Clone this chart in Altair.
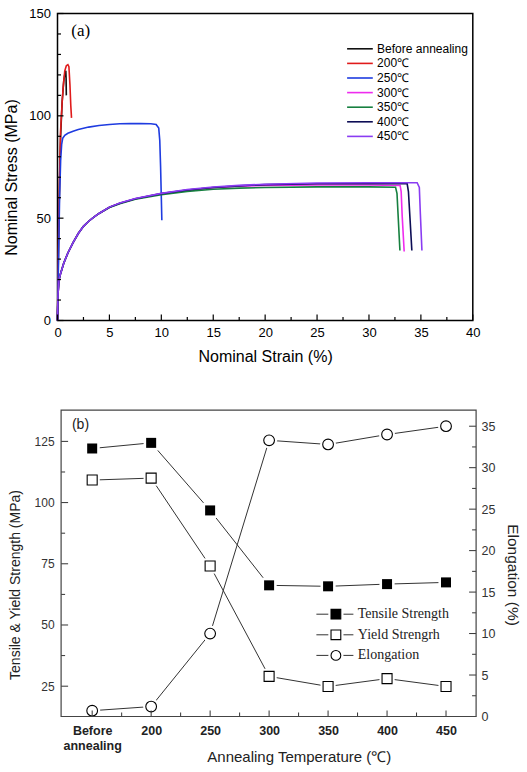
import json
import altair as alt
import pandas as pd

SANS = "Liberation Sans"
SERIF = "Liberation Serif"

# ---------------- panel (a): stress-strain curves ----------------
series_names = ["Before annealing", "200℃", "250℃", "300℃", "350℃", "400℃", "450℃"]
series_colors = ["#111111", "#e01b1b", "#1f3ce0", "#ee2cee", "#178040", "#0d0d55", "#8a3cf2"]

strain_before = [0, 0.1, 0.2, 0.3, 0.45, 0.6, 0.72, 0.8, 0.83, 0.85]
stress_before = [0, 38, 68, 90, 107, 117, 121, 122, 118, 110]

strain_200 = [0, 0.1, 0.2, 0.29, 0.44, 0.55, 0.7, 0.85, 1.0, 1.1, 1.2, 1.28, 1.35]
stress_200 = [0, 40, 70, 92, 106, 114, 122, 124.5, 125, 124, 115, 105, 99]

strain_250 = [0, 0.1, 0.2, 0.3, 0.4, 0.5, 0.7, 1.0, 1.5, 2, 3, 4, 5, 6, 7, 8, 9, 9.5,
              9.75, 9.85, 9.93, 10.0, 10.05]
stress_250 = [0, 30, 60, 78, 86, 89, 90.5, 91.5, 92.5, 93.3, 94.5, 95.3, 95.8, 96.1, 96.2,
              96.2, 96.1, 95.8, 94, 88, 75, 60, 49]

strain_300 = [0, 0.05, 0.15, 0.3, 0.6, 1.0, 1.5, 2.0, 2.5, 3.0, 3.5, 4, 5, 6, 7.5, 10, 12.5,
              15, 17.5, 20, 25, 30, 33.0, 33.1, 33.2, 33.39]
stress_300 = [0, 13, 20, 23, 28, 33, 38, 42.5, 46, 48.5, 50.5, 52.3, 55.3, 57.3, 59.5, 62.0,
              63.7, 64.9, 65.6, 66.0, 66.2, 66.2, 66.0, 63, 51, 33.7]

strain_350 = [0, 0.05, 0.15, 0.3, 0.6, 1.0, 1.5, 2.0, 2.5, 3.0, 3.5, 4, 5, 6, 7.5, 10, 12.5,
              15, 17.5, 20, 25, 30, 32.56, 32.7, 32.8, 32.98]
stress_350 = [0, 13, 20, 23, 28, 33, 38, 42.5, 46, 48.5, 50.5, 52.3, 55.2, 57.1, 59.2, 61.5,
              63.1, 64.1, 64.7, 65.0, 65.3, 65.3, 65.1, 62, 52, 34.2]

strain_400 = [0, 0.05, 0.15, 0.3, 0.6, 1.0, 1.5, 2.0, 2.5, 3.0, 3.5, 4, 5, 6, 7.5, 10, 12.5,
              15, 17.5, 20, 25, 30, 33.68, 33.8, 33.95, 34.13]
stress_400 = [0, 13, 20, 23, 28, 33, 38, 42.5, 46, 48.5, 50.5, 52.3, 55.3, 57.3, 59.5, 62.0,
              63.8, 65.0, 65.8, 66.4, 66.8, 66.8, 66.8, 63, 50, 34.2]

strain_450 = [0, 0.05, 0.15, 0.3, 0.6, 1.0, 1.5, 2.0, 2.5, 3.0, 3.5, 4, 5, 6, 7.5, 10, 12.5,
              15, 17.5, 20, 25, 30, 34.64, 34.85, 34.95, 35.1]
stress_450 = [0, 13, 20, 23, 28, 33, 38, 42.5, 46, 48.5, 50.5, 52.3, 55.4, 57.4, 59.6, 62.1,
              64.0, 65.2, 66.0, 66.6, 67.2, 67.3, 67.3, 65, 52, 34.2]

strain_lists = [strain_before, strain_200, strain_250, strain_300, strain_350, strain_400, strain_450]
stress_lists = [stress_before, stress_200, stress_250, stress_300, stress_350, stress_400, stress_450]

top_x_major = [0, 5, 10, 15, 20, 25, 30, 35, 40]
top_x_minor = [2.5, 7.5, 12.5, 17.5, 22.5, 27.5, 32.5, 37.5]
top_y_major = [0, 50, 100, 150]
top_y_minor = [10, 20, 30, 40, 60, 70, 80, 90, 110, 120, 130, 140]

# ---------------- panel (b): strength / elongation ----------------
temp_labels = ["Before annealing", "200", "250", "300", "350", "400", "450"]
tensile_strength = [122.1, 124.4, 96.8, 66.2, 65.8, 66.7, 67.4]
yield_strength = [109.2, 110.0, 74.1, 29.0, 24.9, 28.1, 24.9]
elongation = [0.7, 1.2, 10.0, 33.3, 32.8, 34.0, 35.0]
legend_b_labels = ["Tensile Strength", "Yield Strengrh", "Elongation"]

left_major = [25, 50, 75, 100, 125]
left_minor = [37.5, 62.5, 87.5, 112.5]
right_major = [0, 5, 10, 15, 20, 25, 30, 35]
right_minor = [2.5, 7.5, 12.5, 17.5, 22.5, 27.5, 32.5]
bot_x_minor = [0.5, 1.5, 2.5, 3.5, 4.5, 5.5]

# ================= build panel (a) =================
W_A, H_A = 415.3, 307
rows = []
for name, sx, sy in zip(series_names, strain_lists, stress_lists):
    for i, (a, b) in enumerate(zip(sx, sy)):
        rows.append({"name": name, "strain": a, "stress": b, "i": i})
curves_df = pd.DataFrame(rows)

xs_a = alt.Scale(domain=[0, 40], nice=False, zero=False)
ys_a = alt.Scale(domain=[0, 150], nice=False, zero=False)
col_scale = alt.Scale(domain=series_names, range=series_colors)

curves = alt.Chart(curves_df).mark_line(strokeWidth=1.6).encode(
    x=alt.X("strain:Q", scale=xs_a, axis=alt.Axis(
        values=top_x_major, ticks=False, domain=False, grid=False, labelFlush=False,
        labelOverlap=False, labelPadding=6, labelFont=SANS, labelFontSize=13, labelColor="black",
        title="Nominal Strain (%)", titleFont=SANS, titleFontSize=16, titleFontWeight="normal",
        titleColor="black", titleX=207.6, titleY=36, titleBaseline="middle", titleAlign="center")),
    y=alt.Y("stress:Q", scale=ys_a, axis=alt.Axis(
        values=top_y_major, ticks=False, domain=False, grid=False, labelFlush=False,
        labelOverlap=False, labelPadding=7, labelFont=SANS, labelFontSize=13, labelColor="black",
        title="Nominal Stress (MPa)", titleFont=SANS, titleFontSize=16, titleFontWeight="normal",
        titleColor="black", titleX=-45.9, titleY=163.5, titleAngle=270, titleBaseline="middle",
        titleAlign="center")),
    color=alt.Color("name:N", scale=col_scale, legend=None),
    order=alt.Order("i:Q"),
)


def xticks(values, length, scale, h, field, color="black", width=1.2):
    return alt.Chart(pd.DataFrame({field: values})).mark_rule(color=color, strokeWidth=width).encode(
        x=alt.X(f"{field}:Q", scale=scale),
        y=alt.value(h), y2=alt.value(h - length))


def yticks(values, length, scale, x0, field, direction=1, color="black", width=1.2):
    return alt.Chart(pd.DataFrame({field: values})).mark_rule(color=color, strokeWidth=width).encode(
        y=alt.Y(f"{field}:Q", scale=scale),
        x=alt.value(x0), x2=alt.value(x0 + direction * length))


legend_a_df = pd.DataFrame({"name": series_names, "k": list(range(len(series_names)))})
legend_a_base = alt.Chart(legend_a_df).transform_calculate(py="35.3 + 14.6 * datum.k")
legend_a_lines = legend_a_base.mark_rule(strokeWidth=1.6).encode(
    x=alt.value(289.6), x2=alt.value(315.3),
    y=alt.Y("py:Q", scale=None),
    color=alt.Color("name:N", scale=col_scale, legend=None))
legend_a_text = legend_a_base.mark_text(align="left", baseline="middle", font=SANS, fontSize=12,
                                        color="black").encode(
    x=alt.value(319.6), y=alt.Y("py:Q", scale=None), text="name:N")

label_a = alt.Chart(pd.DataFrame({"t": ["(a)"]})).mark_text(
    font=SERIF, fontSize=17, color="black", align="center", baseline="middle").encode(
    x=alt.value(23.3), y=alt.value(17.5), text="t:N")

panel_a = alt.layer(
    curves,
    xticks(top_x_major, 6, xs_a, H_A, "strain"),
    xticks(top_x_minor, 3.5, xs_a, H_A, "strain"),
    yticks(top_y_major, 6, ys_a, 0, "stress"),
    yticks(top_y_minor, 3.5, ys_a, 0, "stress"),
    legend_a_lines, legend_a_text, label_a,
).properties(width=W_A, height=H_A, view=alt.ViewBackground(stroke="black", strokeWidth=1.5))

# ================= build panel (b) =================
W_B, H_B = 418.6, 306.3
X0 = 3.6
GRAY = "#333333"
split_labels = [l.split(" ") if " " in l else l for l in temp_labels]
label_expr = json.dumps(split_labels) + "[datum.value]"

xs_b = alt.Scale(domain=[-0.527, 6.51], range=[X0, W_B], nice=False, zero=False)
yl = alt.Scale(domain=[12.62, 137.74], nice=False, zero=False)
yr = alt.Scale(domain=[0, 36.93], nice=False, zero=False)

strength_df = pd.DataFrame({"idx": list(range(len(temp_labels))), "ts": tensile_strength,
                            "ys": yield_strength, "el": elongation})

x_axis_b = alt.Axis(values=list(range(len(temp_labels))), labelExpr=label_expr, ticks=False,
                    domain=False, grid=False, labelFlush=False, labelOverlap=False,
                    labelPadding=7.6, labelFont=SANS, labelFontSize=12.5, labelFontWeight="bold",
                    labelColor="#222222", labelLineHeight=15.5,
                    title="Annealing Temperature (℃)", titleFont=SANS, titleFontSize=15,
                    titleFontWeight="normal", titleColor="#222222", titleX=241.3, titleY=39.7,
                    titleBaseline="middle", titleAlign="center")

xb = alt.X("idx:Q", scale=xs_b, axis=x_axis_b)
xb_plain = alt.X("idx:Q", scale=xs_b)

left_axis = alt.Axis(orient="left", offset=-X0, values=left_major, ticks=False, domain=False,
                     grid=False, labelFlush=False, labelOverlap=False, labelPadding=7,
                     labelFont=SANS, labelFontSize=12, labelColor=GRAY,
                     title="Tensile & Yield Strength (MPa)", titleFont=SANS, titleFontSize=14,
                     titleFontWeight="normal", titleColor="#222222", titleX=-45.5, titleY=174.3,
                     titleAngle=270, titleBaseline="middle", titleAlign="center")
right_axis = alt.Axis(orient="right", values=right_major, ticks=False, domain=False, grid=False,
                      labelFlush=False, labelOverlap=False, labelPadding=5, labelFont=SANS,
                      labelFontSize=12.5, labelColor=GRAY,
                      title="Elongation (%)", titleFont=SANS, titleFontSize=15.5,
                      titleFontWeight="normal", titleColor="#222222", titleX=36.5, titleY=164.3,
                      titleAngle=90, titleBaseline="middle", titleAlign="center")

base_b = alt.Chart(strength_df)

ts_line = base_b.mark_line(color=GRAY, strokeWidth=1).encode(
    x=xb, y=alt.Y("ts:Q", scale=yl, axis=left_axis))
ys_line = base_b.mark_line(color=GRAY, strokeWidth=1).encode(
    x=xb_plain, y=alt.Y("ys:Q", scale=yl))
ts_halo = base_b.mark_point(shape="square", filled=True, fill="white", size=230, opacity=1,
                            strokeWidth=0).encode(x=xb_plain, y=alt.Y("ts:Q", scale=yl))
ys_halo = base_b.mark_point(shape="square", filled=True, fill="white", size=230, opacity=1,
                            strokeWidth=0).encode(x=xb_plain, y=alt.Y("ys:Q", scale=yl))
ts_pts = base_b.mark_point(shape="square", filled=True, fill="black", size=100, opacity=1,
                           strokeWidth=0).encode(x=xb_plain, y=alt.Y("ts:Q", scale=yl))
ys_pts = base_b.mark_point(shape="square", filled=True, fill="white", stroke="black",
                           strokeWidth=1.1, size=100, opacity=1).encode(
    x=xb_plain, y=alt.Y("ys:Q", scale=yl))

left_group = alt.layer(
    ts_line, ys_line, ts_halo, ys_halo, ts_pts, ys_pts,
    yticks(left_major, 7, yl, X0, "ts", color=GRAY, width=1),
    yticks(left_minor, 4, yl, X0, "ts", color=GRAY, width=1),
)

el_line = base_b.mark_line(color=GRAY, strokeWidth=1).encode(
    x=xb_plain, y=alt.Y("el:Q", scale=yr, axis=right_axis))
el_halo = base_b.mark_point(shape="circle", filled=True, fill="white", size=260, opacity=1,
                            strokeWidth=0).encode(x=xb_plain, y=alt.Y("el:Q", scale=yr))
el_pts = base_b.mark_point(shape="circle", filled=True, fill="white", stroke="black",
                           strokeWidth=1.1, size=115, opacity=1).encode(
    x=xb_plain, y=alt.Y("el:Q", scale=yr))

right_group = alt.layer(
    el_line, el_halo, el_pts,
    yticks(right_major, 7, yr, W_B, "el", direction=-1, color=GRAY, width=1),
    yticks(right_minor, 4, yr, W_B, "el", direction=-1, color=GRAY, width=1),
)

frame_b = alt.Chart(pd.DataFrame({"k": [0]})).mark_rect(
    filled=False, stroke="#444444", strokeWidth=1.2).encode(
    x=alt.value(X0), x2=alt.value(W_B), y=alt.value(0), y2=alt.value(H_B))

legend_b_df = pd.DataFrame({"label": legend_b_labels, "k": [0, 1, 2]})
legend_b_base = alt.Chart(legend_b_df).transform_calculate(py="204 + 20.6 * datum.k")
shape_scale = alt.Scale(domain=legend_b_labels, range=["square", "square", "circle"])
fill_scale = alt.Scale(domain=legend_b_labels, range=["black", "white", "white"])
size_scale = alt.Scale(domain=legend_b_labels, range=[95, 95, 115])
legend_b_lines = legend_b_base.mark_rule(color=GRAY, strokeWidth=1).encode(
    x=alt.value(258.9), x2=alt.value(295.9), y=alt.Y("py:Q", scale=None))
legend_b_halo = legend_b_base.mark_point(filled=True, fill="white", size=230, opacity=1,
                                         strokeWidth=0).encode(
    x=alt.value(278.4), y=alt.Y("py:Q", scale=None),
    shape=alt.Shape("label:N", scale=shape_scale, legend=None))
legend_b_pts = legend_b_base.mark_point(filled=True, stroke="black", strokeWidth=1.1,
                                        opacity=1).encode(
    x=alt.value(278.4), y=alt.Y("py:Q", scale=None),
    shape=alt.Shape("label:N", scale=shape_scale, legend=None),
    fill=alt.Fill("label:N", scale=fill_scale, legend=None),
    size=alt.Size("label:N", scale=size_scale, legend=None))
legend_b_text = legend_b_base.mark_text(align="left", baseline="middle", font=SERIF,
                                        fontSize=14, color="#222222").encode(
    x=alt.value(300.3), y=alt.Y("py:Q", scale=None), text="label:N")

label_b = alt.Chart(pd.DataFrame({"t": ["(b)"]})).mark_text(
    font=SANS, fontSize=14, color="#222222", align="center", baseline="middle").encode(
    x=alt.value(23.0), y=alt.value(14.3), text="t:N")

panel_b = alt.layer(
    left_group, right_group,
    xticks(list(range(len(temp_labels))), 6, xs_b, H_B, "idx", color=GRAY, width=1),
    xticks(bot_x_minor, 4, xs_b, H_B, "idx", color=GRAY, width=1),
    frame_b, legend_b_lines, legend_b_halo, legend_b_pts, legend_b_text, label_b,
).resolve_scale(y="independent").properties(
    width=W_B, height=H_B, view=alt.ViewBackground(stroke="transparent"))

chart = alt.vconcat(panel_a, panel_b, spacing=89.7, bounds="flush").properties(
    padding={"left": 2.5, "top": 6.5, "right": 4, "bottom": 4},
    background="white",
).configure_view(stroke="transparent")

chart.save("out.html", embed_options={"renderer": "svg", "actions": False})
